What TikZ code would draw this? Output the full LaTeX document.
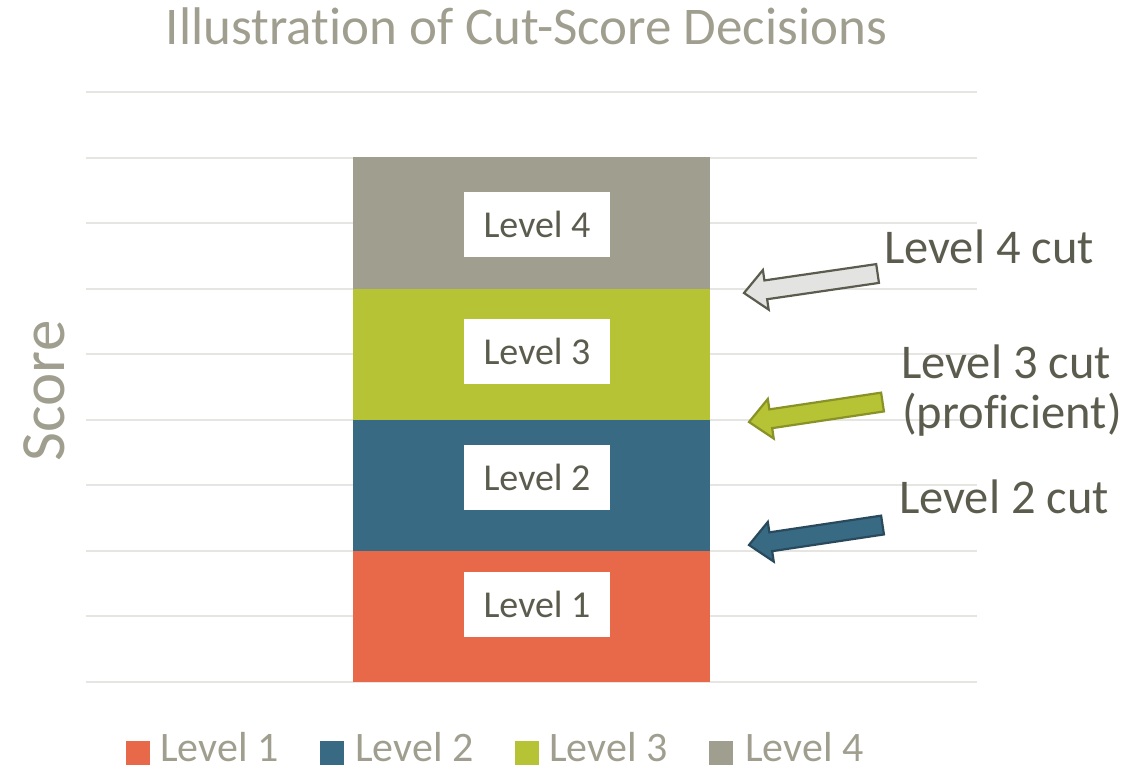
\documentclass[tikz,border=0pt]{standalone}
\usepackage{fontspec}
\setmainfont[Ligatures=NoCommon]{Carlito}
\usepackage{xcolor}
\definecolor{ColA}{RGB}{232,105,74}
\definecolor{ColB}{RGB}{57,106,132}
\definecolor{ColC}{RGB}{182,195,52}
\definecolor{ColD}{RGB}{160,159,143}
\definecolor{ColGrid}{RGB}{229,229,225}
\definecolor{ColText}{RGB}{92,92,78}
\usepackage{tikz}
\tikzstyle{Grid}=[draw=ColGrid,line width=2pt]
\tikzstyle{Bar}=[rectangle,inner sep=0pt,minimum width=357pt,minimum height=131.5pt]
\tikzstyle{Box}=[rectangle,fill=white,inner sep=0pt,minimum width=146pt,
minimum height=65pt,text=ColText,font=\fontsize{38}{44}\selectfont]
\tikzstyle{CutLabel}=[anchor=base west,inner sep=0pt,text=ColText,
font=\fontsize{48.5}{56}\selectfont]
\tikzstyle{Key}=[rectangle,inner sep=0pt,minimum size=24pt]
\tikzstyle{KeyText}=[anchor=base west,inner sep=0pt,text=ColD,
font=\fontsize{42}{48}\selectfont]
\tikzstyle{Cut}=[line width=2.2pt,line join=miter]

\begin{document}
\begin{tikzpicture}[x=1pt,y=-1pt]
        \useasboundingbox (0,0) rectangle (1147,768);
        % grid
        \foreach \y in {92,157.5,223,288.5,354,419.5,485,550.5,616,681.5}
                \draw[Grid](86,\y)--(977,\y);
        % stacked bar
        \node[Bar,fill=ColA](b1)at(531.5,616){};
        \node[Bar,fill=ColB](b2)at(531.5,485){};
        \node[Bar,fill=ColC](b3)at(531.5,354){};
        \node[Bar,fill=ColD](b4)at(531.5,223){};
        \node[Box](l1)at(537,604.5){Level 1};
        \node[Box](l2)at(537,477.5){Level 2};
        \node[Box](l3)at(537,351.5){Level 3};
        \node[Box](l4)at(537,224.5){Level 4};
        % title and axis
        \node[text=ColD,font=\fontsize{53}{62}\selectfont,anchor=base](title)
                at(526.5,45){Illustration of Cut-Score Decisions};
        \node[text=ColD,font=\fontsize{63}{72}\selectfont,rotate=90,anchor=base](score)
                at(64,391){Score};
        % cut arrows
        \coordinate(t4)at(744,293);
        \coordinate(t3)at(749,422);
        \coordinate(t2)at(749,545);
        \draw[Cut,draw=ColText,fill=ColGrid!80!gray!60,shift={(t4)},rotate=8.3]
                (0,0)--(22,-20)--(22,-9.5)--(135,-9.5)--(135,9.5)--(22,9.5)--(22,20)--cycle;
        \draw[Cut,draw=ColC!75!black,fill=ColC,shift={(t3)},rotate=8.5]
                (0,0)--(22,-20)--(22,-9.5)--(135,-9.5)--(135,9.5)--(22,9.5)--(22,20)--cycle;
        \draw[Cut,draw=ColB!70!black,fill=ColB,shift={(t2)},rotate=8.5]
                (0,0)--(22,-20)--(22,-9.5)--(135,-9.5)--(135,9.5)--(22,9.5)--(22,20)--cycle;
        \node[CutLabel](c4)at(884,263){Level 4 cut};
        \node[CutLabel](c3)at(901,378){Level 3 cut};
        \node[CutLabel](c3b)at(902,428){(proficient)};
        \node[CutLabel](c2)at(899,513){Level 2 cut};
        % legend
        \node[Key,fill=ColA](k1)at(138,752.5){};
        \node[Key,fill=ColB](k2)at(332,752.5){};
        \node[Key,fill=ColC](k3)at(527,752.5){};
        \node[Key,fill=ColD](k4)at(720.5,752.5){};
        \node[KeyText](k1t)at(160,761){Level 1};
        \node[KeyText](k2t)at(355,761){Level 2};
        \node[KeyText](k3t)at(549,761){Level 3};
        \node[KeyText](k4t)at(745,761){Level 4};
\end{tikzpicture}
\end{document}
